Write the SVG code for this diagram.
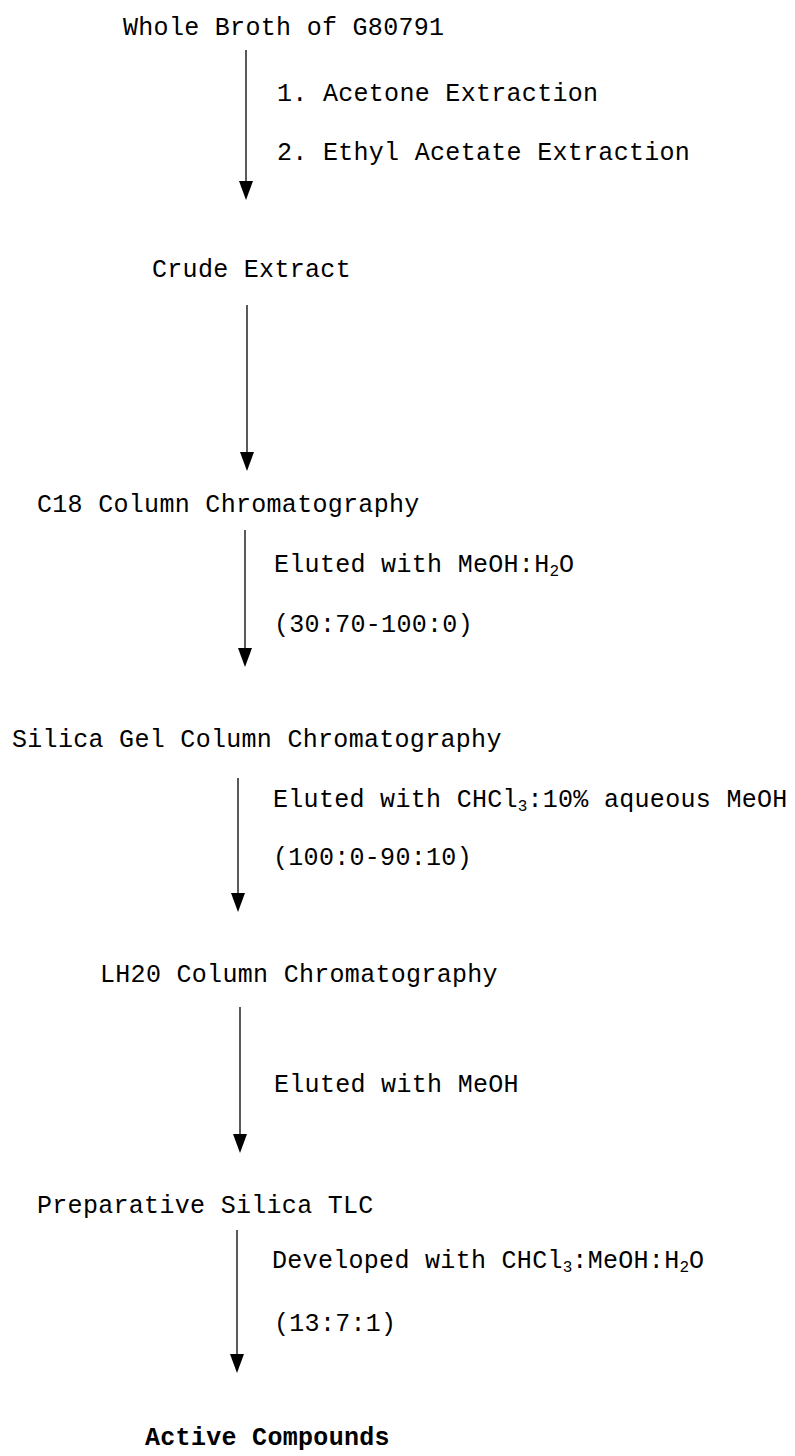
<svg xmlns="http://www.w3.org/2000/svg" width="795" height="1456" viewBox="0 0 795 1456">
<defs>
<style>
text{font-family:"Liberation Mono","DejaVu Sans Mono",monospace;font-size:25px;letter-spacing:0.3px;fill:#000}
.b{font-weight:bold}
.sub{font-size:16px;letter-spacing:0}
line{stroke:#000;stroke-width:1.3}
.head{fill:#000}
</style>
</defs>
<rect width="795" height="1456" fill="#fff"/>
<g id="connectors">
<line x1="246" y1="50" x2="246" y2="184"/>
<path class="head" d="M239,181 L253,181 L246,200 Z"/>
<line x1="247" y1="305" x2="247" y2="455"/>
<path class="head" d="M240,452 L254,452 L247,471 Z"/>
<line x1="245" y1="530" x2="245" y2="651"/>
<path class="head" d="M238,648 L252,648 L245,667 Z"/>
<line x1="238" y1="778" x2="238" y2="896"/>
<path class="head" d="M231,893 L245,893 L238,912 Z"/>
<line x1="240" y1="1007" x2="240" y2="1137"/>
<path class="head" d="M233,1134 L247,1134 L240,1153 Z"/>
<line x1="237" y1="1230" x2="237" y2="1357"/>
<path class="head" d="M230,1354 L244,1354 L237,1373 Z"/>
</g>
<g id="n1"><text x="123" y="35">Whole Broth of G80791</text></g>
<g id="l1"><text x="277" y="101">1. Acetone Extraction</text><text x="277" y="160">2. Ethyl Acetate Extraction</text></g>
<g id="n2"><text x="152" y="277">Crude Extract</text></g>
<g id="n3"><text x="37" y="512">C18 Column Chromatography</text></g>
<g id="l3"><text x="274" y="572">Eluted with MeOH:H<tspan class="sub" dy="4">2</tspan><tspan dy="-4">O</tspan></text><text x="274" y="632">(30:70-100:0)</text></g>
<g id="n4"><text x="12" y="747">Silica Gel Column Chromatography</text></g>
<g id="l4"><text x="273" y="807">Eluted with CHCl<tspan class="sub" dy="4">3</tspan><tspan dy="-4">:10% aqueous MeOH</tspan></text><text x="273" y="865">(100:0-90:10)</text></g>
<g id="n5"><text x="100" y="982">LH20 Column Chromatography</text></g>
<g id="l5"><text x="274" y="1092">Eluted with MeOH</text></g>
<g id="n6"><text x="37" y="1213">Preparative Silica TLC</text></g>
<g id="l6"><text x="272" y="1268">Developed with CHCl<tspan class="sub" dy="4">3</tspan><tspan dy="-4">:MeOH:H</tspan><tspan class="sub" dy="4">2</tspan><tspan dy="-4">O</tspan></text><text x="274" y="1331">(13:7:1)</text></g>
<g id="n7"><text class="b" x="145" y="1445">Active Compounds</text></g>
</svg>
